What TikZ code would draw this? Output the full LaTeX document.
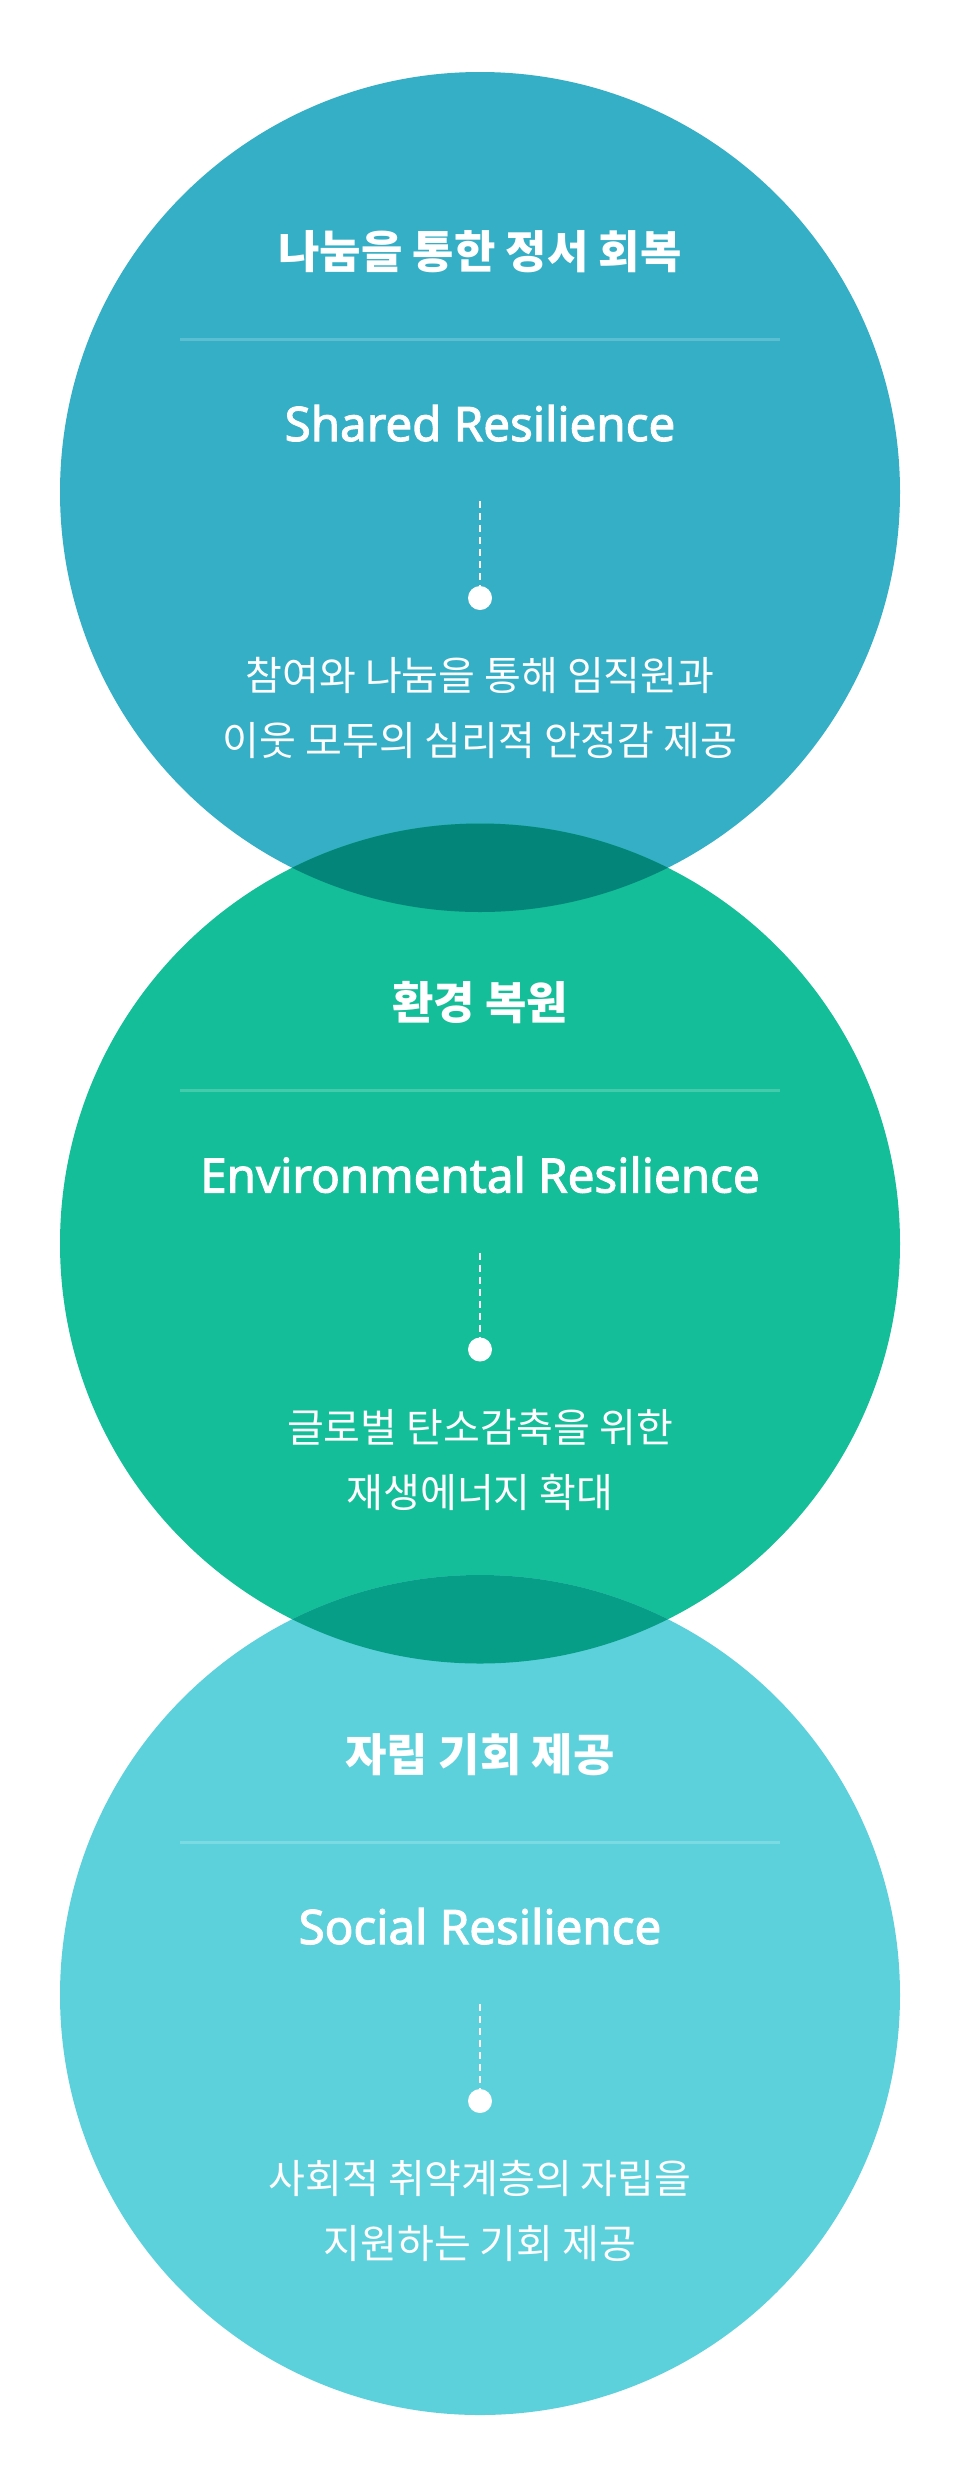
\documentclass[tikz,border=0pt]{standalone}
\usepackage{fontspec}
\newfontfamily\kofont{Noto Sans CJK KR}
\newfontfamily\enfont{Noto Sans}[FakeBold=2.2]
\definecolor{blau}{RGB}{52,175,198}
\definecolor{gruen}{RGB}{20,190,152}
\definecolor{hellblau}{RGB}{92,209,220}
\definecolor{dunkel}{RGB}{4,133,122}
\definecolor{mittel}{RGB}{7,158,135}
\tikzset{
  titel/.style={text=white, inner sep=0pt, font=\kofont\bfseries\fontsize{45}{52}\selectfont},
  engl/.style={text=white, inner sep=0pt, anchor=base, font=\enfont\fontsize{47.5}{56}\selectfont},
  beschr/.style={text=white, inner sep=0pt, align=center, font=\kofont\fontsize{40}{65}\selectfont},
  trenn/.style={white, opacity=0.2, line width=3pt},
  strich/.style={white, line width=2.5pt, dash pattern=on 7pt off 5pt},
  punkt/.style={circle, fill=white, inner sep=0pt, minimum size=24pt}
}
\begin{document}
\begin{tikzpicture}[x=1pt,y=-1pt]
\useasboundingbox[fill=white] (0,0) rectangle (960,2484);
% Kreise
\fill[blau] (480,492) circle[radius=420];
\fill[gruen] (480,1243.5) circle[radius=420];
\fill[hellblau] (480,1995) circle[radius=420];
% Schnittflaechen
\begin{scope}
\clip (480,492) circle[radius=420];
\fill[dunkel] (480,1243.5) circle[radius=420];
\end{scope}
\begin{scope}
\clip (480,1243.5) circle[radius=420];
\fill[mittel] (480,1995) circle[radius=420];
\end{scope}
% Kreis 1
\node[titel] (titel1) at (480,251.5) {나눔을 통한 정서 회복};
\coordinate (links1) at (180,339);
\coordinate (rechts1) at (780,339);
\draw[trenn] (links1) -- (rechts1);
\node[engl] (engl1) at (480,441) {Shared Resilience};
\coordinate (oben1) at (480,501);
\node[punkt] (punkt1) at (480,598) {};
\draw[strich] (oben1) -- (punkt1.north);
\node[beschr] (text1) at (480,708) {참여와 나눔을 통해 임직원과\\이웃 모두의 심리적 안정감 제공};
% Kreis 2
\node[titel] (titel2) at (480,1003) {환경 복원};
\coordinate (links2) at (180,1090.5);
\coordinate (rechts2) at (780,1090.5);
\draw[trenn] (links2) -- (rechts2);
\node[engl] (engl2) at (480,1192.5) {Environmental Resilience};
\coordinate (oben2) at (480,1252.5);
\node[punkt] (punkt2) at (480,1349.5) {};
\draw[strich] (oben2) -- (punkt2.north);
\node[beschr] (text2) at (480,1459.5) {글로벌 탄소감축을 위한\\재생에너지 확대};
% Kreis 3
\node[titel] (titel3) at (480,1754.5) {자립 기회 제공};
\coordinate (links3) at (180,1842);
\coordinate (rechts3) at (780,1842);
\draw[trenn] (links3) -- (rechts3);
\node[engl] (engl3) at (480,1944) {Social Resilience};
\coordinate (oben3) at (480,2004);
\node[punkt] (punkt3) at (480,2101) {};
\draw[strich] (oben3) -- (punkt3.north);
\node[beschr] (text3) at (480,2211) {사회적 취약계층의 자립을\\지원하는 기회 제공};
\end{tikzpicture}
\end{document}
